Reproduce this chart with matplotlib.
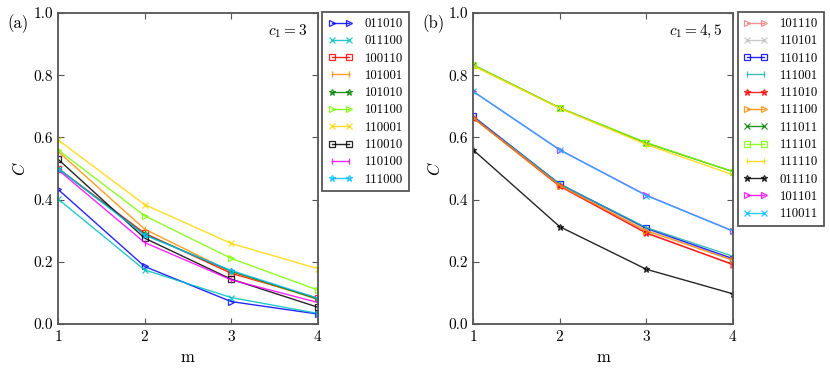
import matplotlib
matplotlib.use("Agg")
import matplotlib.pyplot as plt

plt.rcParams['font.family'] = 'serif'
plt.rcParams['font.serif'] = ['cmr10']
plt.rcParams['mathtext.fontset'] = 'cm'
plt.rcParams['axes.formatter.use_mathtext'] = True
plt.rcParams['xtick.direction'] = 'in'
plt.rcParams['ytick.direction'] = 'in'
plt.rcParams['xtick.top'] = True
plt.rcParams['ytick.right'] = True

m = [1, 2, 3, 4]

# panel (a), c1 = 3
labels_a = ["011010", "011100", "100110", "101001", "101010",
            "101100", "110001", "110010", "110100", "111000"]
values_a = [
    [0.433, 0.185, 0.072, 0.032],
    [0.402, 0.174, 0.085, 0.034],
    [0.500, 0.292, 0.163, 0.083],
    [0.555, 0.305, 0.168, 0.079],
    [0.500, 0.288, 0.170, 0.080],
    [0.560, 0.348, 0.211, 0.109],
    [0.592, 0.384, 0.259, 0.178],
    [0.530, 0.276, 0.144, 0.054],
    [0.496, 0.262, 0.142, 0.069],
    [0.500, 0.286, 0.172, 0.083],
]
colors_a = ["blue", "c", "red", "darkorange", "green",
            "lawngreen", "gold", "black", "magenta", "deepskyblue"]
markers_a = [">", "x", "s", "|", "*", ">", "x", "s", "|", "*"]

# panel (b), c1 = 4,5
labels_b = ["101110", "110101", "110110", "111001", "111010", "111100",
            "111011", "111101", "111110", "011110", "101101", "110011"]
values_b = [
    [0.665, 0.447, 0.295, 0.190],
    [0.665, 0.450, 0.305, 0.205],
    [0.668, 0.450, 0.308, 0.210],
    [0.665, 0.450, 0.310, 0.218],
    [0.663, 0.443, 0.292, 0.192],
    [0.663, 0.445, 0.300, 0.205],
    [0.833, 0.695, 0.582, 0.490],
    [0.833, 0.695, 0.583, 0.490],
    [0.830, 0.694, 0.577, 0.480],
    [0.560, 0.313, 0.176, 0.097],
    [0.748, 0.560, 0.414, 0.299],
    [0.748, 0.560, 0.413, 0.299],
]
colors_b = ["lightcoral", "silver", "blue", "lightseagreen", "red", "darkorange",
            "green", "lawngreen", "gold", "black", "magenta", "deepskyblue"]
markers_b = [">", "x", "s", "|", "*", ">", "x", "s", "|", "*", ">", "x"]

frame_col = "#555555"


def draw(ax, labels, values, colors, markers, tag, note):
    for lab, v, c, mk in zip(labels, values, colors, markers):
        ax.plot(m, v, color=c, marker=mk, markerfacecolor='none',
                markeredgecolor=c, markersize=5, mew=0.9, lw=1.0,
                alpha=0.85, label=lab)
    ax.set_xlim(1, 4)
    ax.set_ylim(0, 1.0)
    ax.set_xticks(m)
    ax.set_yticks([0, 0.2, 0.4, 0.6, 0.8, 1.0])
    ax.set_yticklabels(["0.0", "0.2", "0.4", "0.6", "0.8", "1.0"])
    ax.tick_params(labelsize=11, length=4, color=frame_col)
    for s in ax.spines.values():
        s.set_color(frame_col)
        s.set_linewidth(1.3)
    ax.set_xlabel("m", fontsize=12)
    ax.set_ylabel(r"$C$", fontsize=12)
    ax.text(0.96, 0.94, note, transform=ax.transAxes, ha='right', va='center',
            fontsize=11)
    ax.text(-0.195, 0.965, tag, transform=ax.transAxes, ha='left', va='center',
            fontsize=12)
    leg = ax.legend(loc='upper left', bbox_to_anchor=(1.018, 1.003), numpoints=2,
                    fontsize=9.3, fancybox=False, edgecolor=frame_col,
                    framealpha=1, borderaxespad=0, labelspacing=0.4,
                    handlelength=1.9, handletextpad=0.9, borderpad=0.45)
    leg.get_frame().set_linewidth(1.3)


fig = plt.figure(figsize=(8.3, 3.68), dpi=100)
ax1 = fig.add_axes([0.0699, 0.1196, 0.313, 0.845])
ax2 = fig.add_axes([0.570, 0.1196, 0.313, 0.845])
draw(ax1, labels_a, values_a, colors_a, markers_a, "(a)", r"$c_1 = 3$")
draw(ax2, labels_b, values_b, colors_b, markers_b, "(b)", r"$c_1 = 4,5$")

fig.savefig("out.png", dpi=100)
